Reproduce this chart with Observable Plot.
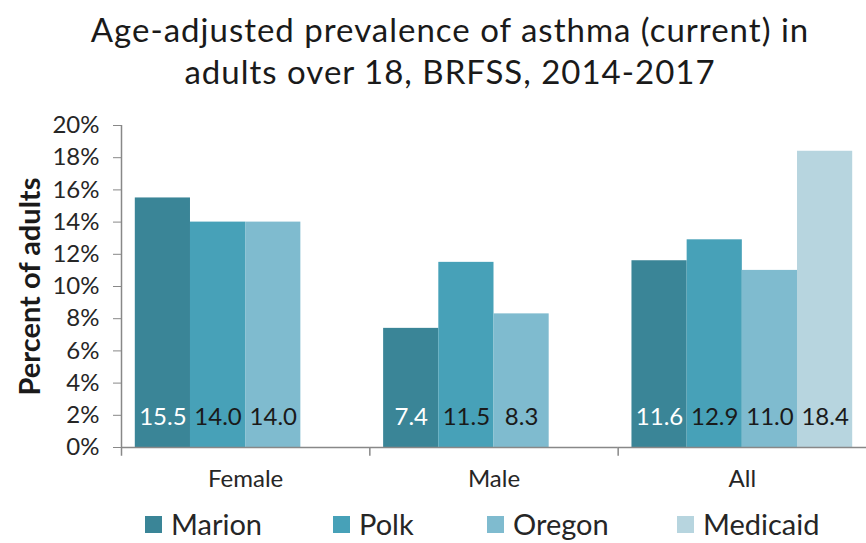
<!DOCTYPE html>
<html>
<head>
<meta charset="utf-8">
<script src="https://cdn.jsdelivr.net/npm/d3@7"></script>
<script src="https://cdn.jsdelivr.net/npm/@observablehq/plot@0.6"></script>
<style>
  html, body { margin: 0; padding: 0; background: #fff; }
  body { width: 866px; height: 543px; position: relative; overflow: hidden; font-family: Lato, "Open Sans", sans-serif; color: #262626; }
  #title { position: absolute; left: 34px; top: 8px; width: 832px; text-align: center; font-size: 33px; letter-spacing: 1px; line-height: 42px; color: #1a1a1a; }
  #chart { position: absolute; left: 0; top: 105px; }
  #legend { position: absolute; left: 0; top: 505px; width: 866px; height: 38px; }
  .lg { position: absolute; top: 0; font-size: 29px; line-height: 38px; color: #262626; }
  .sw { position: absolute; top: 11px; width: 17px; height: 17px; }
  #chart svg g[aria-label="y-axis tick"] path { stroke: #888; }
</style>
</head>
<body>
<div id="title">Age-adjusted prevalence of asthma (current) in<br>adults over 18, BRFSS, 2014-2017</div>
<div id="chart"></div>
<div id="legend"></div>
<script>
const groups = ["Female", "Male", "All"];
const series = ["Marion", "Polk", "Oregon", "Medicaid"];
const colors = ["#3a8597", "#47a1b8", "#7fbbcf", "#b7d5df"];
const marion = [15.5, 7.4, 11.6];
const polk = [14.0, 11.5, 12.9];
const oregon = [14.0, 8.3, 11.0];
const medicaid = [null, null, 18.4];
const yTicks = [0, 2, 4, 6, 8, 10, 12, 14, 16, 18, 20];
const yLabel = "Percent of adults";

const valuesBySeries = [marion, polk, oregon, medicaid];
const rows = [];
groups.forEach((g, gi) => {
  series.forEach((s, si) => {
    const v = valuesBySeries[si][gi];
    if (v != null) rows.push({group: g, series: s, value: v});
  });
});

const W = 866, H = 395, ML = 121, MR = 0, MT = 20, MB = 53;
const padOuter = 0.25;
const facetW = (W - ML - MR) / groups.length;
const step = facetW / (series.length + 2 * padOuter);
const edgeDx = -(step / 2 + padOuter * step);

const plot = Plot.plot({
  width: W, height: H,
  marginLeft: ML, marginRight: MR, marginTop: MT, marginBottom: MB,
  style: {fontFamily: "Lato, 'Open Sans', sans-serif", fontSize: "24px", color: "#262626", background: "#fff"},
  fx: {domain: groups, padding: 0, round: false, label: null, axis: "bottom", tickSize: 0, tickPadding: 22},
  x: {domain: series, paddingInner: 0, paddingOuter: padOuter, round: false, axis: null},
  y: {domain: [0, 20], ticks: yTicks, tickFormat: d => d + "%", tickSize: 8, tickPadding: 14, label: null},
  color: {domain: series, range: colors},
  marks: [
    Plot.barY(rows, {fx: "group", x: "series", y: "value", fill: "series"}),
    Plot.ruleY([0], {stroke: "#888", strokeWidth: 1.5}),
    Plot.ruleX(["Marion"], {fx: () => "Female", x: d => d, y1: -0.55, y2: 20, dx: edgeDx, stroke: "#888", strokeWidth: 1.5}),
    Plot.ruleX(["Male", "All"], {fx: d => d, x: () => "Marion", y1: -0.55, y2: 0, dx: edgeDx, stroke: "#888", strokeWidth: 1.5}),
    Plot.text(rows.filter(d => d.series === "Marion"), {fx: "group", x: "series", y: 0, text: d => d.value.toFixed(1), dy: -30, fill: "#ffffff", fontSize: 24}),
    Plot.text(rows.filter(d => d.series !== "Marion"), {fx: "group", x: "series", y: 0, text: d => d.value.toFixed(1), dy: -30, fill: "#1a1a1a", fontSize: 24}),
    Plot.text([yLabel], {fx: () => "Female", frameAnchor: "left", textAnchor: "middle", rotate: -90, dx: -91, text: d => d, fontSize: 29, fontWeight: "bold", fill: "#1a1a1a"})
  ]
});
document.getElementById("chart").appendChild(plot);

const legendPos = [145, 333, 487, 677];
const legend = document.getElementById("legend");
series.forEach((s, i) => {
  const sw = document.createElement("div");
  sw.className = "sw";
  sw.style.left = legendPos[i] + "px";
  sw.style.background = colors[i];
  legend.appendChild(sw);
  const t = document.createElement("div");
  t.className = "lg";
  t.style.left = (legendPos[i] + 26) + "px";
  t.textContent = s;
  legend.appendChild(t);
});
</script>
</body>
</html>
